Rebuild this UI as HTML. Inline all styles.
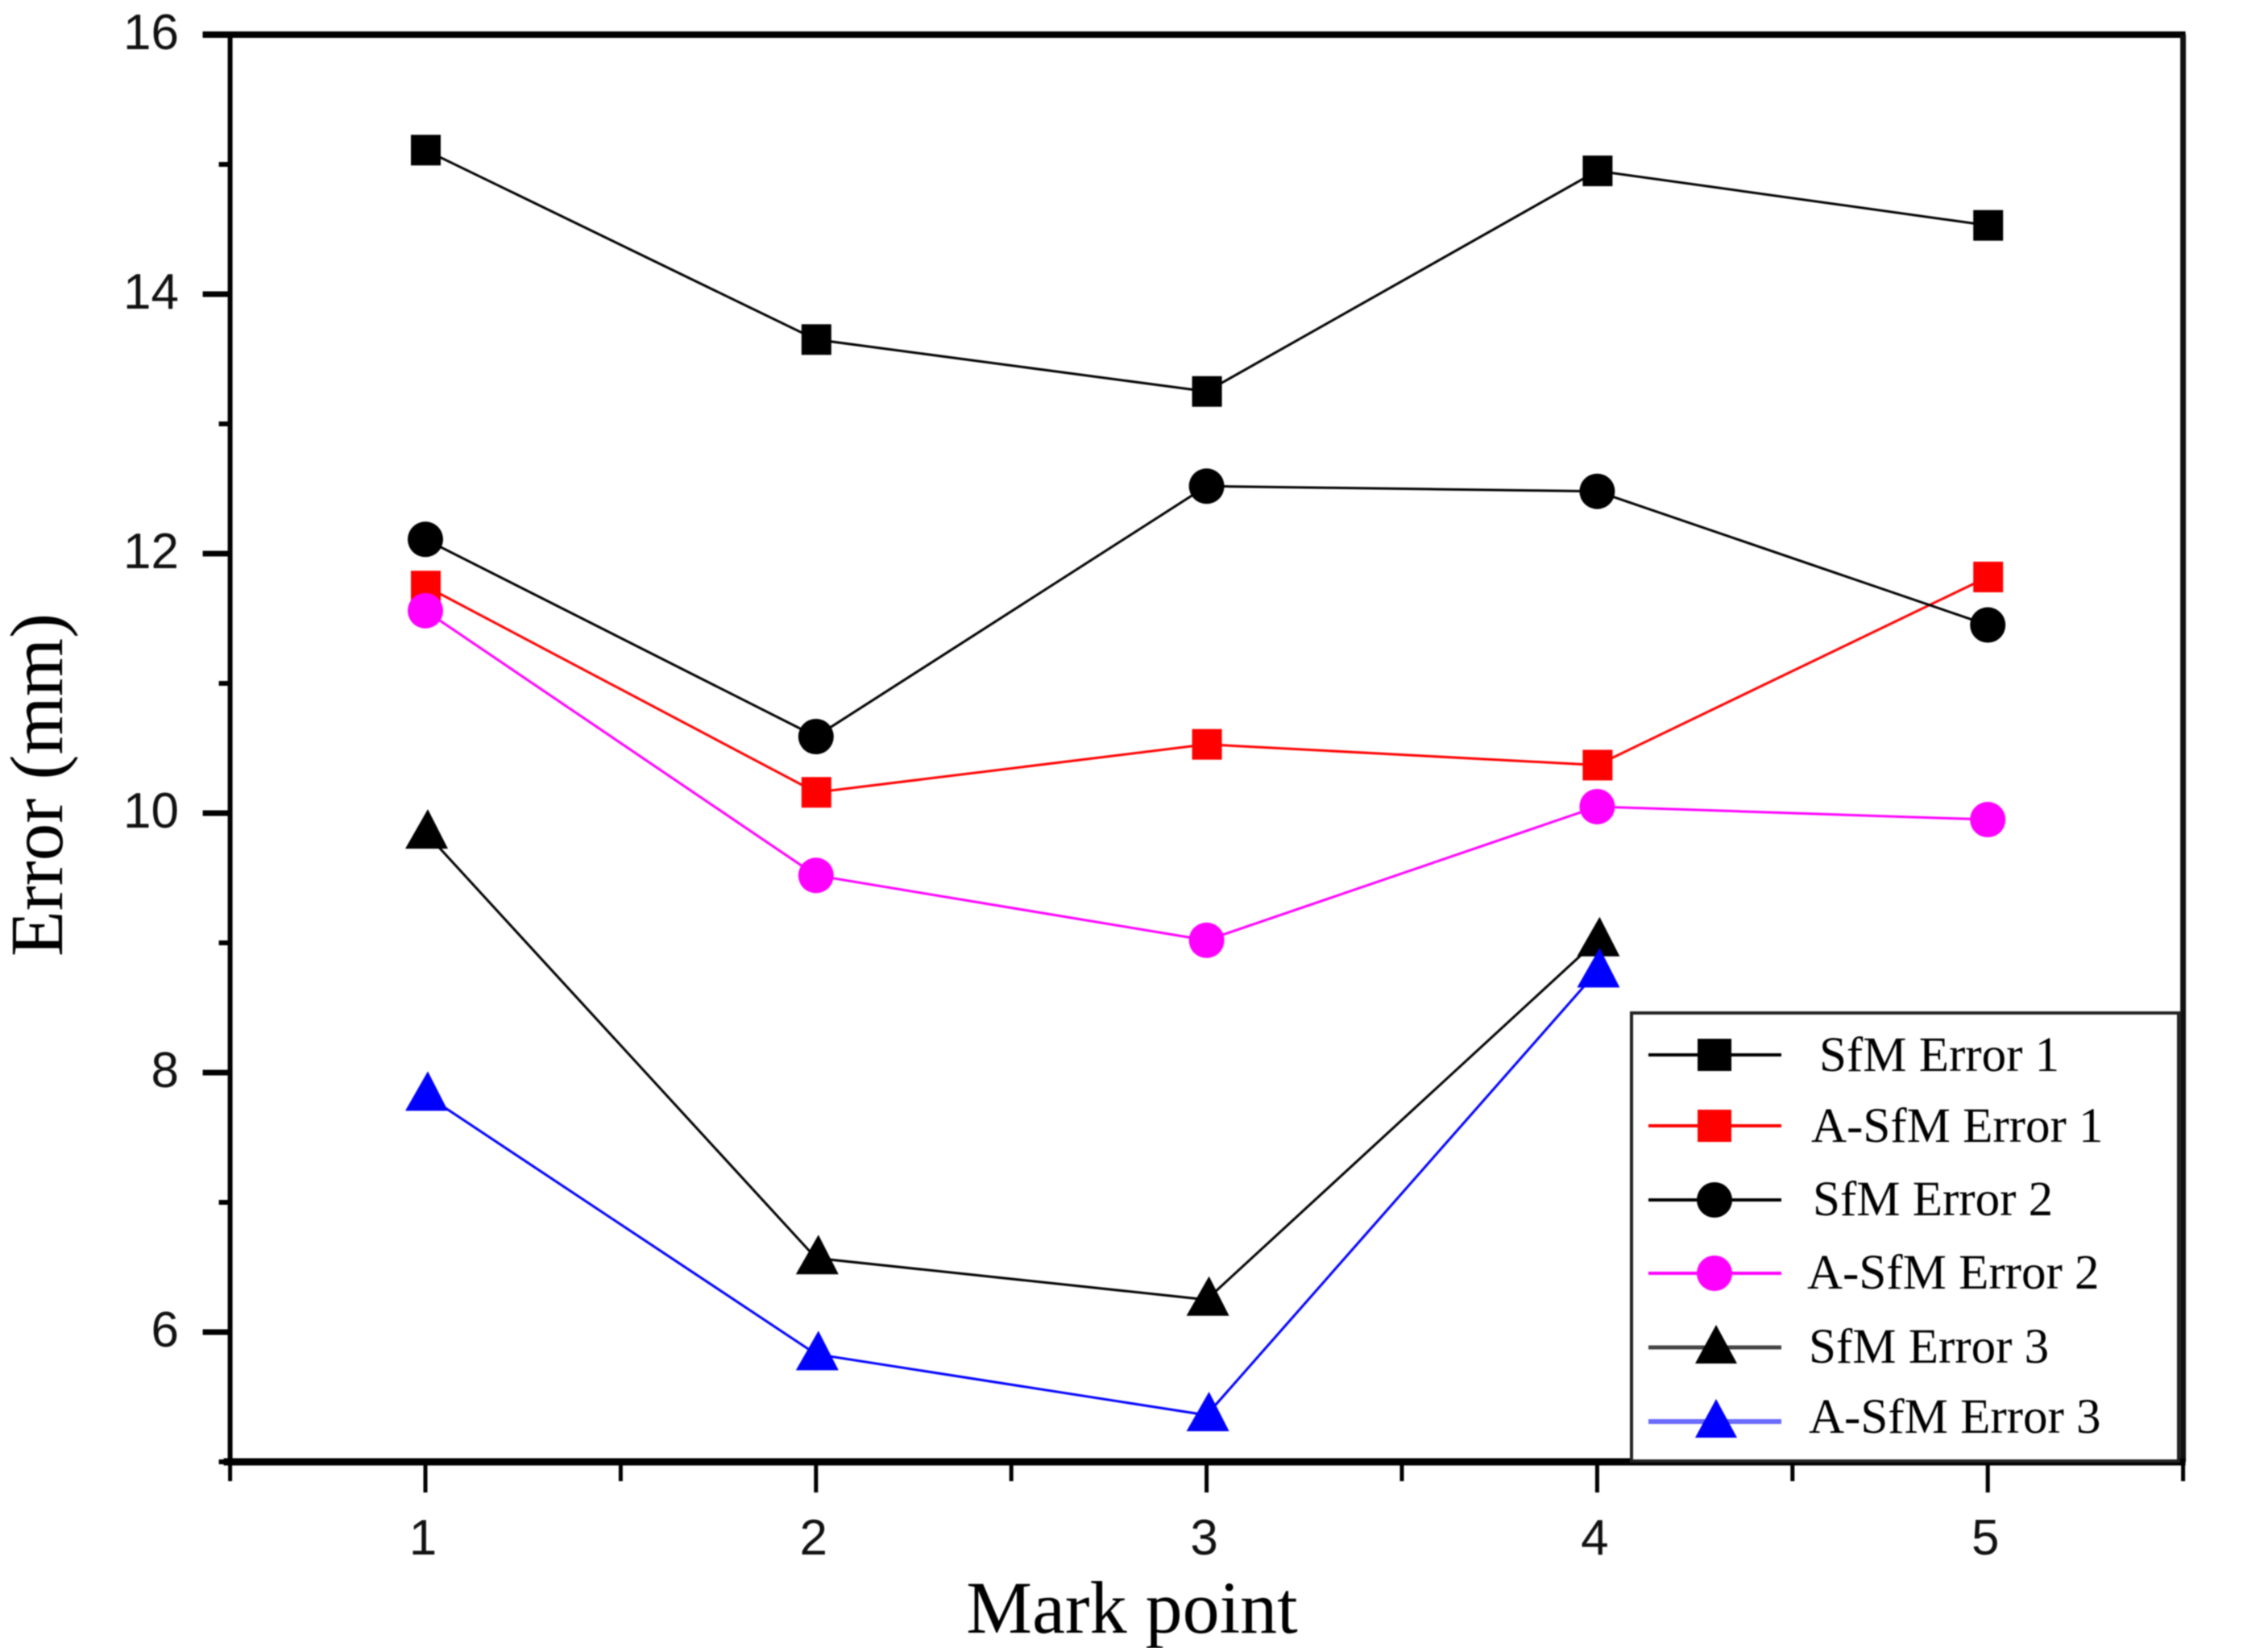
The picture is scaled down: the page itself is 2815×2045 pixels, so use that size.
<!DOCTYPE html>
<html>
<head>
<meta charset="utf-8">
<style>
html,body{margin:0;padding:0;background:#fff;width:2815px;height:2045px;overflow:hidden}
svg{display:block;filter:blur(0.7px)}
.tick{font-family:"Liberation Sans",sans-serif;font-size:62px;fill:#111}
.title{font-family:"Liberation Serif",serif;font-size:92px;fill:#000}
.leg{font-family:"Liberation Serif",serif;font-size:61px;fill:#000}
</style>
</head>
<body>
<svg id="chart" xmlns="http://www.w3.org/2000/svg" width="2815" height="2045" viewBox="0 0 2815 2045">
  <rect x="0" y="0" width="2815" height="2045" fill="#fff"/>
  <g id="axes"></g>
  <g id="series"></g>
  <text class="title" x="1405" y="2026" text-anchor="middle">Mark point</text>
  <text class="title" transform="translate(77 974) rotate(-90)" text-anchor="middle" style="font-size:93px">Error (mm)</text>
  <g transform="translate(-11 -6)">
    <rect x="2036" y="1263" width="679" height="556" fill="#fff" stroke="#222" stroke-width="4"/>
    <g>
      <line x1="2057" x2="2222" y1="1315" y2="1315" stroke="#000" stroke-width="4"/>
      <rect x="2118" y="1295" width="42" height="40" fill="#000"/>
      <text class="leg" x="2269" y="1335">SfM Error 1</text>
    </g>
    <g>
      <line x1="2057" x2="2222" y1="1403" y2="1403" stroke="#f00" stroke-width="4"/>
      <rect x="2118" y="1383" width="42" height="40" fill="#f00"/>
      <text class="leg" x="2259" y="1423">A-SfM Error 1</text>
    </g>
    <g>
      <line x1="2057" x2="2222" y1="1495" y2="1495" stroke="#000" stroke-width="4"/>
      <circle cx="2139" cy="1495" r="22" fill="#000"/>
      <text class="leg" x="2261" y="1514">SfM Error 2</text>
    </g>
    <g>
      <line x1="2057" x2="2222" y1="1586" y2="1586" stroke="#f0f" stroke-width="4"/>
      <circle cx="2139" cy="1586" r="22" fill="#f0f"/>
      <text class="leg" x="2254" y="1605">A-SfM Error 2</text>
    </g>
    <g>
      <line x1="2057" x2="2222" y1="1678" y2="1678" stroke="#444" stroke-width="5"/>
      <polygon points="2141,1650 2167,1698 2115,1698" fill="#000"/>
      <text class="leg" x="2256" y="1697">SfM Error 3</text>
    </g>
    <g>
      <line x1="2057" x2="2222" y1="1770" y2="1770" stroke="#6a6aff" stroke-width="6"/>
      <polygon points="2141,1742 2167,1790 2115,1790" fill="#00f"/>
      <text class="leg" x="2256" y="1784">A-SfM Error 3</text>
    </g>
  </g>
</svg>
<script>
const categories = [1, 2, 3, 4, 5];
const yTickLabels = [6, 8, 10, 12, 14, 16];
const yMinorTicks = [5, 7, 9, 11, 13, 15];
const xMinorTicks = [0.5, 1.5, 2.5, 3.5, 4.5, 5.5];
const sfmError1 = [15.11, 13.65, 13.25, 14.95, 14.53];
const aSfmError1 = [11.75, 10.16, 10.53, 10.37, 11.82];
const sfmError2 = [12.11, 10.59, 12.52, 12.48, 11.45];
const aSfmError2 = [11.56, 9.52, 9.02, 10.05, 9.95];
const sfmError3 = [9.85, 6.57, 6.25, 9.02];
const aSfmError3 = [7.83, 5.83, 5.36, 8.78];

const SVGNS = 'http://www.w3.org/2000/svg';
const xScale = v => 528 + (v - 1) * 484.8;
const yScale = v => 43 + (16 - v) * 161;

function make(parent, tag, attrs, text) {
  const el = document.createElementNS(SVGNS, tag);
  for (const k in attrs) el.setAttribute(k, attrs[k]);
  if (text !== undefined) el.textContent = text;
  parent.appendChild(el);
  return el;
}

const axes = document.getElementById('axes');
const seriesRoot = document.getElementById('series');
const left = xScale(0.5), right = xScale(5.5), top_ = yScale(16), bottom = yScale(5);

const topLine = make(axes, 'line', {x1: left - 34, x2: right + 3, y1: top_, y2: top_, stroke: '#000', 'stroke-width': 8});


const rightLine = make(axes, 'line', {x1: right, x2: right, y1: top_, y2: bottom, stroke: '#111', 'stroke-width': 7});


const yAxisLine = make(axes, 'line', {x1: left, x2: left, y1: top_, y2: bottom, stroke: '#000', 'stroke-width': 6});


const xAxisLine = make(axes, 'line', {x1: left - 8, x2: right + 3, y1: bottom, y2: bottom, stroke: '#000', 'stroke-width': 9});



yTickLabels.forEach(v => {
  const t = make(axes, 'line', {x1: left - 34, x2: left, y1: yScale(v), y2: yScale(v), stroke: '#000', 'stroke-width': 7});
  
  
  const l = make(axes, 'text', {class: 'tick', x: 222, y: yScale(v) + 18, 'text-anchor': 'end'}, v);
  
  
});
yMinorTicks.forEach(v => {
  const t = make(axes, 'line', {x1: left - 14, x2: left, y1: yScale(v), y2: yScale(v), stroke: '#000', 'stroke-width': 6});
  
  
});
categories.forEach(v => {
  const t = make(axes, 'line', {x1: xScale(v), x2: xScale(v), y1: bottom, y2: bottom + 38, stroke: '#000', 'stroke-width': 5});
  
  
  const l = make(axes, 'text', {class: 'tick', x: xScale(v) - 3, y: 1929, 'text-anchor': 'middle'}, v);
  
  
});
xMinorTicks.forEach(v => {
  const t = make(axes, 'line', {x1: xScale(v), x2: xScale(v), y1: bottom, y2: bottom + 24, stroke: '#000', 'stroke-width': 5});
  
  
});

function drawSeries(name, values, color, lineWidth, shape) {
  const g = make(seriesRoot, 'g', {});
  
  
  const pts = values.map((v, i) => xScale(categories[i]) + ',' + yScale(v)).join(' ');
  const line = make(g, 'polyline', {points: pts, fill: 'none', stroke: color, 'stroke-width': lineWidth});
  
  
  values.forEach((v, i) => {
    const x = xScale(categories[i]), y = yScale(v);
    let m;
    if (shape === 'square') {
      m = make(g, 'rect', {x: x - 18, y: y - 19, width: 37, height: 38, fill: color});
    } else if (shape === 'circle') {
      m = make(g, 'circle', {cx: x, cy: y, r: 22, fill: color});
    } else {
      m = make(g, 'polygon', {points: (x + 3) + ',' + (y - 29) + ' ' + (x + 28) + ',' + (y + 20) + ' ' + (x - 25) + ',' + (y + 20), fill: color});
    }
    
    
  });
}

drawSeries('sfm-error-1', sfmError1, '#000', 3, 'square');
drawSeries('a-sfm-error-1', aSfmError1, '#f00', 3, 'square');
drawSeries('sfm-error-2', sfmError2, '#000', 3, 'circle');
drawSeries('a-sfm-error-2', aSfmError2, '#f0f', 3, 'circle');
drawSeries('sfm-error-3', sfmError3, '#000', 3, 'triangle');
drawSeries('a-sfm-error-3', aSfmError3, '#00f', 3, 'triangle');
</script>
</body>
</html>
